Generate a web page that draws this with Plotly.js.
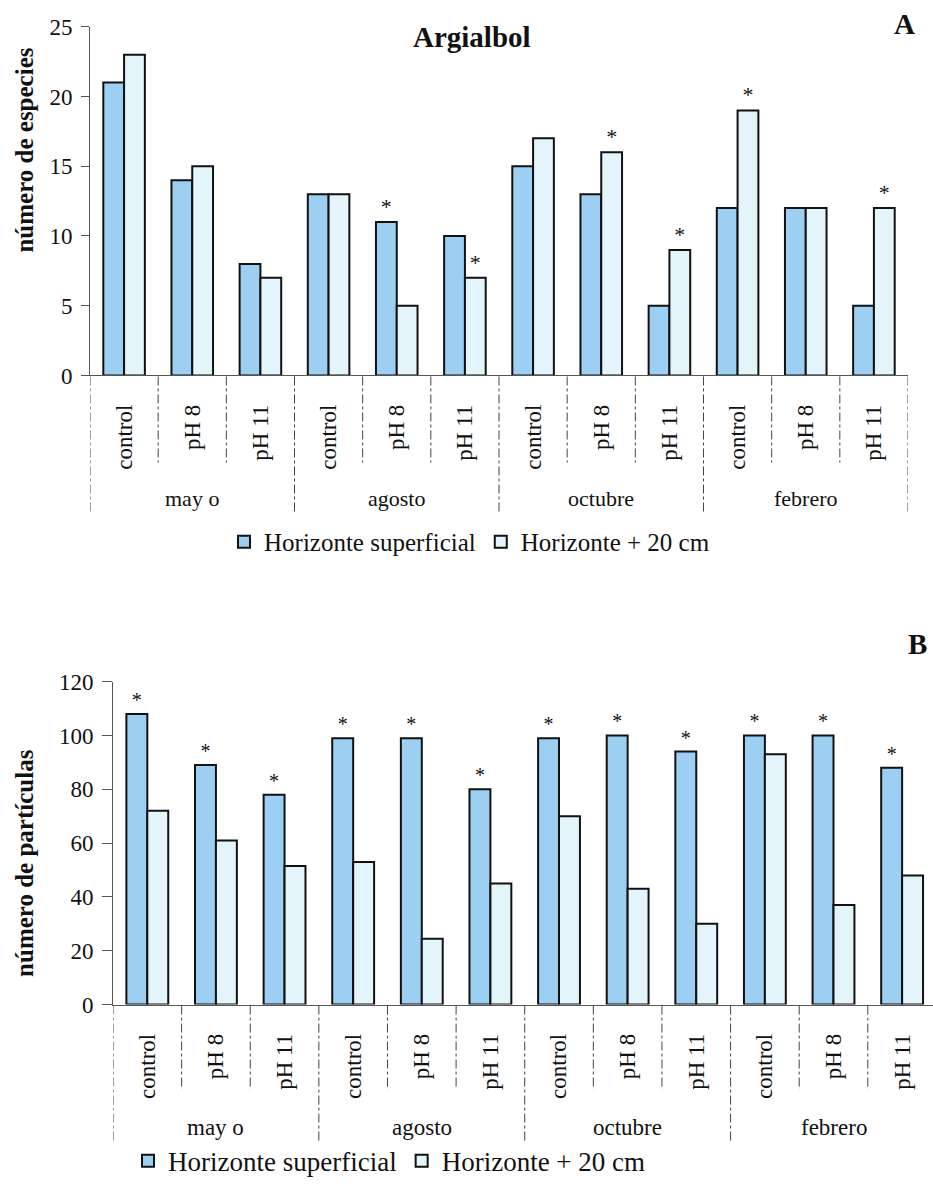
<!DOCTYPE html>
<html>
<head>
<meta charset="utf-8">
<script src="https://cdn.plot.ly/plotly-3.0.1.min.js"></script>
<style>
  html, body { margin: 0; padding: 0; background: #ffffff; }
  #chart { width: 933px; height: 1186px; }
</style>
</head>
<body>
<div id="chart"></div>
<script>
// Sampling months and treatments (one bar pair per treatment within each month)
const months = ['may o', 'agosto', 'octubre', 'febrero'];
const treatments = ['control', 'pH 8', 'pH 11'];

// Panel A: number of species (Argialbol)
const especiesSuperficial = [21, 14, 8, 13, 11, 10, 15, 13, 5, 12, 12, 5];
const especies20cm        = [23, 15, 7, 13, 5, 7, 17, 16, 9, 19, 12, 12];
// significant differences (asterisk drawn over the flagged bar)
const sigEspeciesSuperficial = [0, 0, 0, 0, 1, 0, 0, 0, 0, 0, 0, 0];
const sigEspecies20cm        = [0, 0, 0, 0, 0, 1, 0, 1, 1, 1, 0, 1];

// Panel B: number of particles
const particulasSuperficial = [108, 89, 78, 99, 99, 80, 99, 100, 94, 100, 100, 88];
const particulas20cm        = [72, 61, 51.5, 53, 24.5, 45, 70, 43, 30, 93, 37, 48];
const sigParticulasSuperficial = [1, 1, 1, 1, 1, 1, 1, 1, 1, 1, 1, 1];
const sigParticulas20cm        = [0, 0, 0, 0, 0, 0, 0, 0, 0, 0, 0, 0];

const serieNames = ['Horizonte superficial', 'Horizonte + 20 cm'];
const colorSuperficial = '#9dcff2';
const color20cm = '#e3f5fb';

// ---- geometry helpers (figure has no margins, so paper == pixels) ----
const W = 933, H = 1186;
const fx = p => p / W;
const fy = p => 1 - p / H;
const SERIF = '"Liberation Serif", "Times New Roman", Times, "DejaVu Serif", serif';

const xs = [];
const tickText = [];
months.forEach((m, g) => treatments.forEach((t, k) => { xs.push(g * 3 + k); tickText.push(t); }));

const star = flags => flags.map(f => (f ? '*' : ''));

function barTrace(y, sig, name, color, xa, ya, legend, starSize) {
  return {
    type: 'bar', x: xs, y: y, name: name,
    xaxis: xa, yaxis: ya, legend: legend, showlegend: true,
    marker: { color: color, line: { color: '#111', width: 2 } },
    text: star(sig), textposition: 'outside', cliponaxis: false,
    constraintext: 'none',
    outsidetextfont: { family: SERIF, size: starSize, color: '#111' },
    hoverinfo: 'x+y'
  };
}

const data = [
  barTrace(especiesSuperficial, sigEspeciesSuperficial, serieNames[0], colorSuperficial, 'x', 'y', 'legend', 22),
  barTrace(especies20cm, sigEspecies20cm, serieNames[1], color20cm, 'x', 'y', 'legend', 22),
  barTrace(particulasSuperficial, sigParticulasSuperficial, serieNames[0], colorSuperficial, 'x2', 'y2', 'legend2', 20),
  barTrace(particulas20cm, sigParticulas20cm, serieNames[1], color20cm, 'x2', 'y2', 'legend2', 20)
];

// panel frames in pixels
const A = { left: 90, right: 908, top: 27, bottom: 379 };
const B = { left: 113, right: 933, top: 688, bottom: 1014 };

function xAxis(p, range, anchor) {
  return {
    domain: [fx(p.left), fx(p.right)], range: range, anchor: anchor,
    tickmode: 'array', tickvals: xs, ticktext: tickText, tickangle: -90,
    ticks: '', showline: true, linecolor: '#555', linewidth: 1,
    showgrid: false, zeroline: false, ticklabelstandoff: 19,
    tickfont: { family: SERIF, size: 23, color: '#111' }, fixedrange: true
  };
}
function yAxis(p, range, dtick, ticklen, anchor) {
  return {
    domain: [fy(p.bottom), fy(p.top)], range: range, anchor: anchor,
    dtick: dtick, ticks: 'outside', ticklen: ticklen, tickcolor: '#555',
    showline: true, linecolor: '#555', linewidth: 1,
    showgrid: false, zeroline: false, ticklabelstandoff: 4,
    tickfont: { family: SERIF, size: 23, color: '#111' }, fixedrange: true
  };
}

const annotations = [];
const shapes = [];

function groupDecor(p, xa, monthY, innerLen, outerLen, monthSize) {
  months.forEach((m, g) => {
    annotations.push({
      xref: xa, yref: 'paper', x: g * 3 + 1, y: fy(monthY), text: m,
      showarrow: false, yanchor: 'middle', xanchor: 'center',
      font: { family: SERIF, size: monthSize, color: '#111' }
    });
  });
  for (let i = 0; i <= xs.length; i++) {
    const outer = i % 3 === 0;
    shapes.push({
      type: 'line', xref: xa, yref: 'paper',
      x0: i - 0.5, x1: i - 0.5,
      y0: fy(p.bottom + 1), y1: fy(p.bottom + (outer ? outerLen : innerLen)),
      line: { color: '#444', width: 1, dash: 'dashdot' }
    });
  }
}
groupDecor(A, 'x', 503, 88, 139, 22);
groupDecor(B, 'x2', 1138, 86, 139, 23);

// titles and panel letters
annotations.push(
  { xref: 'paper', yref: 'paper', x: fx(472), y: fy(37), text: '<b>Argialbol</b>', showarrow: false,
    xanchor: 'center', yanchor: 'middle', font: { family: SERIF, size: 29, color: '#111' } },
  { xref: 'paper', yref: 'paper', x: fx(904), y: fy(24), text: '<b>A</b>', showarrow: false,
    xanchor: 'center', yanchor: 'middle', font: { family: SERIF, size: 29, color: '#111' } },
  { xref: 'paper', yref: 'paper', x: fx(917), y: fy(650), text: '<b>B</b>', showarrow: false,
    xanchor: 'center', yanchor: 'middle', font: { family: SERIF, size: 29, color: '#111' } },
  { xref: 'paper', yref: 'paper', x: fx(25), y: fy(152), text: '<b>número de especies</b>', showarrow: false,
    textangle: -90, xanchor: 'center', yanchor: 'middle', font: { family: SERIF, size: 25, color: '#111' } },
  { xref: 'paper', yref: 'paper', x: fx(25), y: fy(871), text: '<b>número de partículas</b>', showarrow: false,
    textangle: -90, xanchor: 'center', yanchor: 'middle', font: { family: SERIF, size: 25, color: '#111' } }
);

const layout = {
  width: W, height: H,
  margin: { l: 0, r: 0, t: 0, b: 0 },
  paper_bgcolor: '#ffffff', plot_bgcolor: '#ffffff',
  font: { family: SERIF, color: '#111' },
  barmode: 'group', bargap: 0.39, bargroupgap: 0,
  xaxis: xAxis(A, [-0.5, 11.5], 'y'),
  yaxis: yAxis(A, [0, 25], 5, 8, 'x'),
  xaxis2: xAxis(B, [-0.5, 11.45], 'y2'),
  yaxis2: yAxis(B, [0, 120], 20, 10, 'x2'),
  legend: {
    orientation: 'h', x: fx(224), y: fy(547), xanchor: 'left', yanchor: 'middle',
    font: { family: SERIF, size: 25, color: '#111' }, bgcolor: 'rgba(0,0,0,0)', itemwidth: 30
  },
  legend2: {
    orientation: 'h', x: fx(128), y: fy(1172), xanchor: 'left', yanchor: 'middle',
    font: { family: SERIF, size: 27, color: '#111' }, bgcolor: 'rgba(0,0,0,0)', itemwidth: 30
  },
  annotations: annotations,
  shapes: shapes,
  showlegend: true
};

Plotly.newPlot('chart', data, layout, { displayModeBar: false, staticPlot: true });
</script>
</body>
</html>
